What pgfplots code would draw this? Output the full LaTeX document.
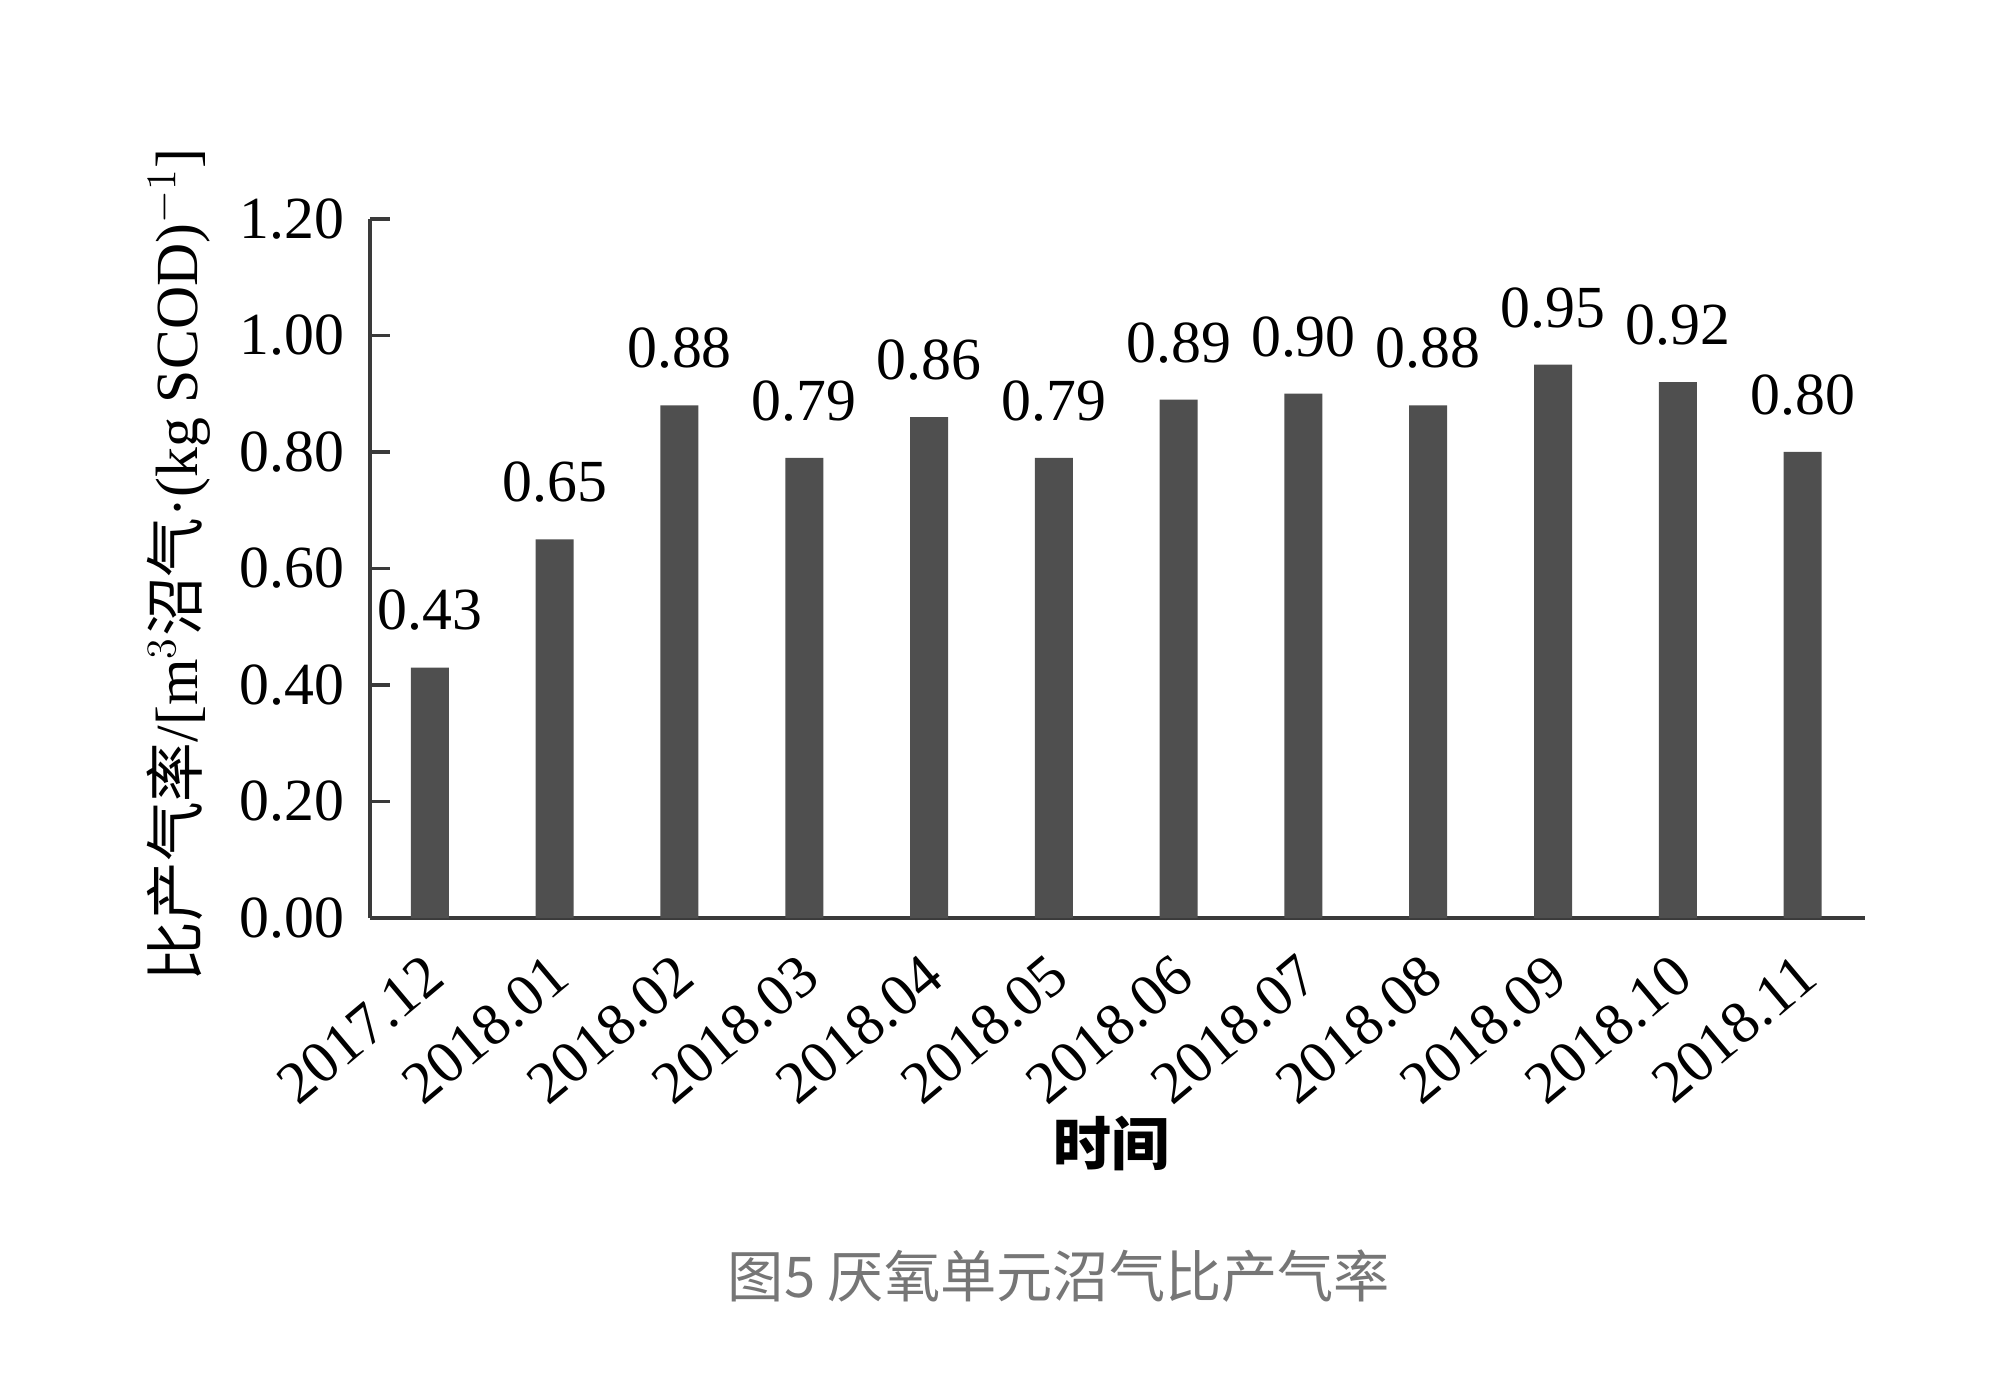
\documentclass[border=0pt]{standalone}
\usepackage{pgfplots}
\pgfplotsset{compat=1.18}
\usepackage{fontspec}
\setmainfont{Liberation Serif}
\newfontfamily\cjk{Noto Sans CJK SC}
\definecolor{barc}{HTML}{4F4F4F}
\definecolor{axc}{HTML}{3A3A3A}
\definecolor{capc}{HTML}{767676}
\begin{document}
\begin{tikzpicture}
\useasboundingbox (0,0) rectangle (20,13.94);
\begin{axis}[
  at={(3.70cm,4.76cm)}, anchor=south west,
  scale only axis, width=14.95cm, height=6.99cm,
  xmin=-0.48, xmax=11.5, ymin=0, ymax=1.2,
  axis x line=bottom, axis y line=left,
  axis line style={-, color=axc, line width=0.9pt},
  ytick={0,0.2,0.4,0.6,0.8,1.0,1.2},
  xtick={0,...,11},
  xticklabels={2017.12,2018.01,2018.02,2018.03,2018.04,2018.05,2018.06,2018.07,2018.08,2018.09,2018.10,2018.11},
  major x tick style={draw=none},
  major y tick style={color=axc, line width=0.9pt},
  major tick length=0.2cm,
  tick align=inside,
  /pgf/number format/.cd, fixed, zerofill, precision=2, assume math mode=true,
  /pgfplots/.cd,
  yticklabel style={font=\fontsize{17}{20}\selectfont, anchor=east, inner sep=0pt, xshift=-0.25cm},
  xticklabel style={font=\fontsize{17}{20}\selectfont, rotate=40, anchor=north east, inner sep=0pt, xshift=-0.27cm, yshift=-0.2cm},
  xlabel={\cjk\bfseries 时间},
  xlabel style={font=\fontsize{16.5}{20}\selectfont, at={(rel axis cs:0.496,-0.323)}, anchor=center},
  ylabel={{\cjk 比产气率}/[m$^{3}${\cjk 沼气}·(kg SCOD)$^{-1}$]},
  ylabel style={font=\fontsize{17}{20}\selectfont, at={(rel axis cs:-0.128,0.505)}, anchor=center, rotate=0},
  nodes near coords,
  nodes near coords style={font=\fontsize{17}{20}\selectfont, anchor=south, inner sep=0pt, yshift=0.36cm, text=black},
  clip=false,
]
\addplot[ybar, bar width=0.38cm, fill=barc, draw=none] coordinates {
(0,0.43) (1,0.65) (2,0.88) (3,0.79) (4,0.86) (5,0.79)
(6,0.89) (7,0.90) (8,0.88) (9,0.95) (10,0.92) (11,0.80)};
\end{axis}
\node[font=\cjk\fontsize{16}{20}\selectfont, text=capc] at (10.59,1.18) {图5 厌氧单元沼气比产气率};
\end{tikzpicture}
\end{document}
